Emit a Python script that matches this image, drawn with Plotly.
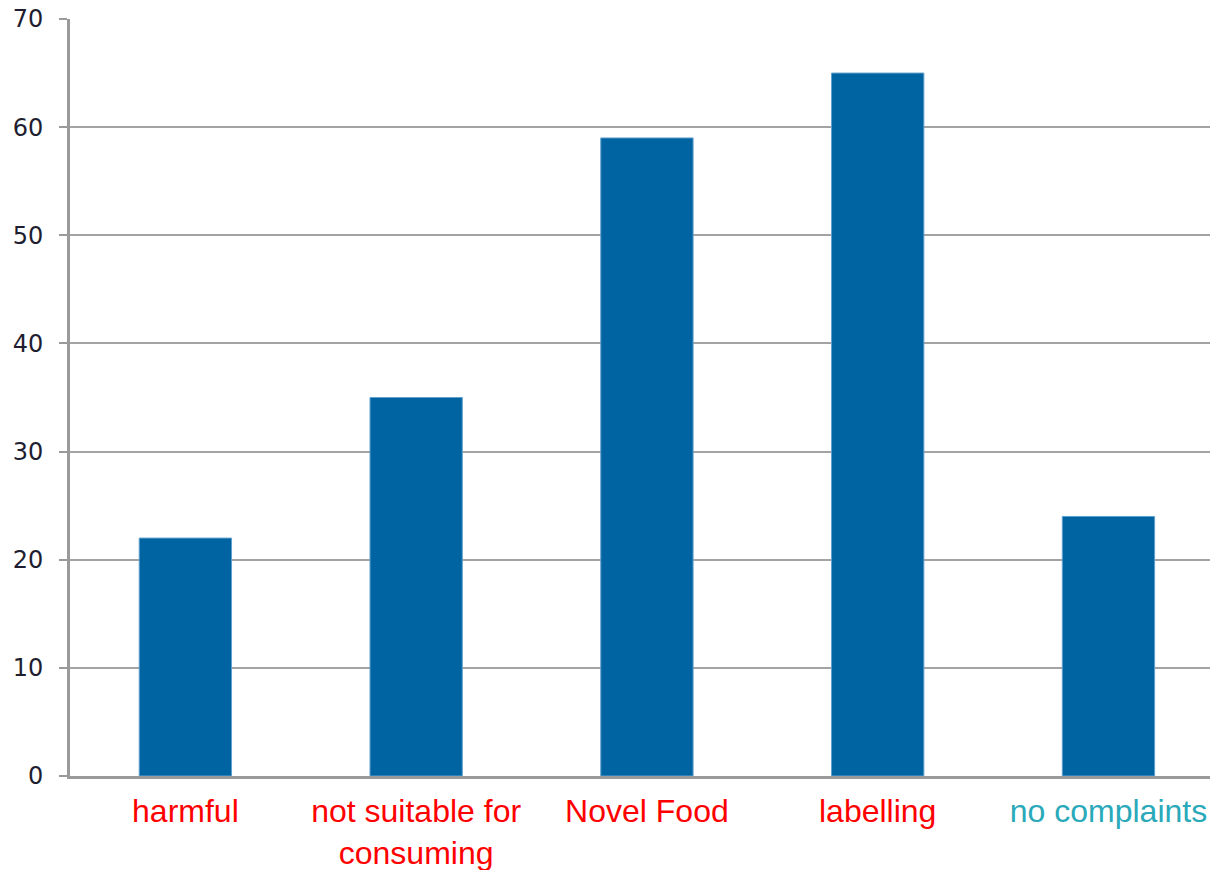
import plotly.graph_objects as go

# Complaint categories and counts
categories = ["harmful", "not suitable for consuming", "Novel Food", "labelling", "no complaints"]
tick_text = ["harmful", "not suitable for<br>consuming", "Novel Food", "labelling", "no complaints"]
label_colors = ["#ff0000", "#ff0000", "#ff0000", "#ff0000", "#29a9b9"]
counts = [22, 35, 59, 65, 24]
y_ticks = [0, 10, 20, 30, 40, 50, 60, 70]

colored_ticks = [
    f"<span style='color:{c}'>{t}</span>" for t, c in zip(tick_text, label_colors)
]

fig = go.Figure(
    go.Bar(
        x=categories,
        y=counts,
        width=0.4,
        marker=dict(color="#0064a2", line=dict(color="#5f9fcc", width=1)),
        hoverinfo="x+y",
    )
)

fig.update_layout(
    width=1210,
    height=870,
    margin=dict(l=70, r=0, t=19, b=94),
    paper_bgcolor="white",
    plot_bgcolor="white",
    showlegend=False,
    bargap=0.6,
)

fig.update_xaxes(
    type="category",
    range=[-0.5, 4.44],
    tickmode="array",
    tickvals=categories,
    ticktext=colored_ticks,
    tickfont=dict(family="Liberation Sans, Arial, sans-serif", size=32),
    showline=True,
    linecolor="#9a9a9a",
    linewidth=3,
    ticks="",
    ticklabelstandoff=5,
    showgrid=False,
)

fig.update_yaxes(
    range=[0, 70],
    tickvals=y_ticks,
    tickfont=dict(family="DejaVu Sans, sans-serif", size=24, color="#1e1e30"),
    showgrid=True,
    gridcolor="#a3a3a3",
    gridwidth=2,
    zeroline=False,
    showline=True,
    linecolor="#9a9a9a",
    linewidth=3,
    ticks="outside",
    ticklen=8,
    tickwidth=2,
    tickcolor="#9a9a9a",
    ticklabelstandoff=11,
)

fig.write_html("out.html")
